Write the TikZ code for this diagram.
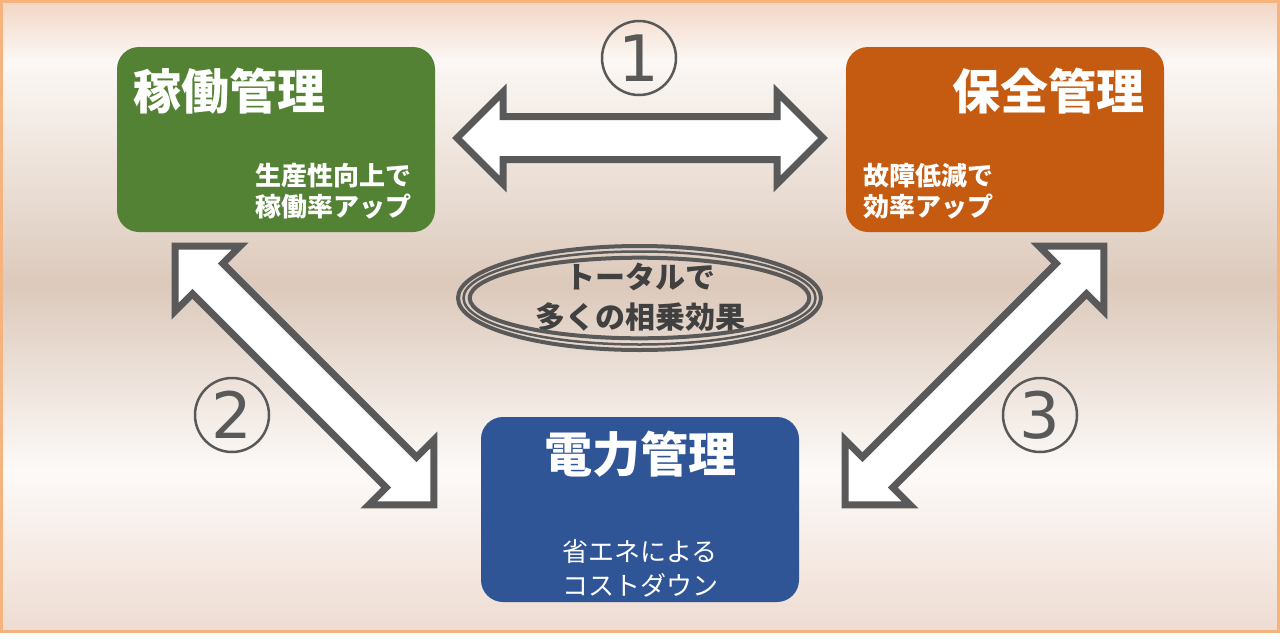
\documentclass[tikz,border=0pt]{standalone}
\usepackage{fontspec}
\setmainfont{Noto Sans CJK JP}
\newfontfamily\digitfont{DejaVu Sans}
\definecolor{kgreen}{HTML}{548235}
\definecolor{korange}{HTML}{C55A11}
\definecolor{kblue}{HTML}{2F5597}
\definecolor{kgray}{HTML}{595959}
\definecolor{ktext}{HTML}{404040}
\definecolor{kborder}{HTML}{F5B37E}
\definecolor{bgA}{HTML}{F2D6C4}
\definecolor{bgB}{HTML}{FCF8F5}
\definecolor{bgC}{HTML}{DCC9BB}
\definecolor{bgD}{HTML}{FDFAF8}
\definecolor{bgE}{HTML}{EEDCD2}
\begin{document}
\begin{tikzpicture}[x=1pt,y=-1pt,
  box/.style={rounded corners=22pt, minimum width=318pt, minimum height=185pt, inner sep=0pt, draw=none},
  title/.style={text=white, font=\fontsize{48}{52}\selectfont\bfseries, inner sep=0pt},
  sub/.style={text=white, font=\fontsize{26}{31}\selectfont\bfseries, inner sep=0pt},
  num/.style={circle, draw=kgray, line width=2.5pt, minimum size=74pt, inner sep=0pt, text=kgray, font=\digitfont\fontsize{64}{64}\selectfont},
  blockarrow/.style={fill=white, draw=kgray, line width=7pt, line join=miter},
  dblarrow/.pic={\path[blockarrow] (-183,0) -- (-137,-46) -- (-137,-21.5) -- (137,-21.5) -- (137,-46) -- (183,0) -- (137,46) -- (137,21.5) -- (-137,21.5) -- (-137,46) -- cycle;}
]
\useasboundingbox (0,0) rectangle (1280,643);
\fill[white] (0,0) rectangle (1280,643);
% background gradient
\shade[top color=bgA, bottom color=bgB] (1.5,1.5) rectangle (1278.5,61);
\shade[top color=bgB, bottom color=bgC] (1.5,60) rectangle (1278.5,286);
\shade[top color=bgC, bottom color=bgD] (1.5,285) rectangle (1278.5,471);
\shade[top color=bgD, bottom color=bgE] (1.5,470) rectangle (1278.5,631.5);
\draw[kborder, line width=3pt] (1.5,1.5) rectangle (1278.5,631.5);

% boxes
\node[box, fill=kgreen] (kado) at (276,139.5) {};
\node[box, fill=korange] (hozen) at (1005,139.5) {};
\node[box, fill=kblue] (denryoku) at (640,509.5) {};

\node[title, anchor=base west] (kadoT) at (133,109) {稼働管理};
\node[sub, anchor=east, align=right] (kadoS) at (412,191) {生産性向上で\\稼働率アップ};
\node[title, anchor=base east] (hozenT) at (1145,109) {保全管理};
\node[sub, anchor=west, align=left] (hozenS) at (863,191) {故障低減で\\効率アップ};
\node[title, anchor=base] (denT) at (640,472) {電力管理};
\node[sub, anchor=center, align=center, font=\fontsize{26}{34}\selectfont] (denS) at (640,568) {省エネによる\\コストダウン};

% block arrows
\pic at (640,138) {dblarrow};
\pic[rotate=-45] at (304.5,375.5) {dblarrow};
\pic[rotate=45] at (974.5,375.5) {dblarrow};

% numbers
\node[num] (n1) at (639,58) {1};
\node[num] (n2) at (232,415) {2};
\node[num] (n3) at (1040,415) {3};

% central ellipse
\node[text=ktext, font=\fontsize{30}{40}\selectfont\bfseries, align=center, inner sep=0pt] (total) at (640,297) {トータルで\\多くの相乗効果};
\draw[kgray, line width=4pt] (639.5,298) ellipse [x radius=181.5pt, y radius=52pt];
\draw[kgray, line width=2.5pt] (639.5,298) ellipse [x radius=176pt, y radius=46.5pt];
\draw[kgray, line width=4pt] (639.5,298) ellipse [x radius=169.8pt, y radius=40.3pt];
\end{tikzpicture}
\end{document}
